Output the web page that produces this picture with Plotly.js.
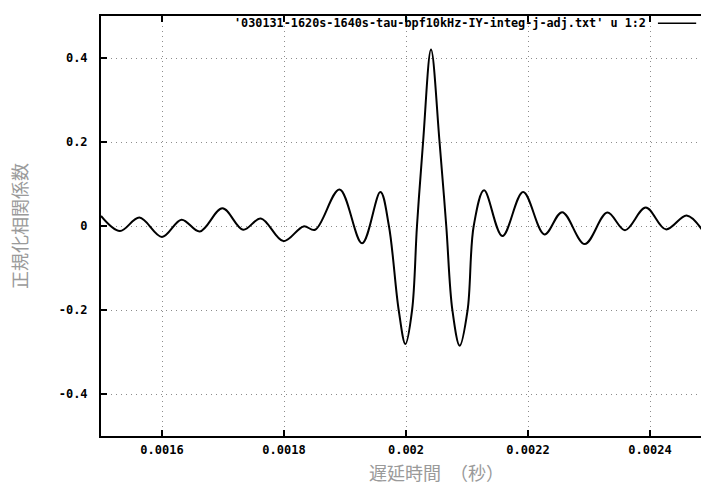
<!DOCTYPE html>
<html>
<head>
<meta charset="utf-8">
<script src="https://cdn.plot.ly/plotly-3.0.1.min.js"></script>
<style>
html,body{margin:0;padding:0;overflow:hidden;background:#fff;width:701px;height:500px;}
#chart{width:772px;height:500px;}
</style>
</head>
<body>
<div id="chart"></div>
<script>
// Delay time (s)
const delayTime = [
  0.001500, 0.001531, 0.001563, 0.001600, 0.001632, 0.001662, 0.001699, 0.001733,
  0.001762, 0.001799, 0.001832, 0.001851, 0.001891, 0.001928, 0.001958, 0.001972,
  0.001988, 0.001999, 0.002010, 0.002018, 0.002028, 0.002041, 0.002055, 0.002066,
  0.002076, 0.002088, 0.002101, 0.002111, 0.002128, 0.002158, 0.002192, 0.002227,
  0.002256, 0.002293, 0.002330, 0.002359, 0.002393, 0.002426, 0.002460, 0.002485
];
// Normalized correlation coefficient
const corrCoef = [
  0.024, -0.012, 0.020, -0.026, 0.015, -0.013, 0.042, -0.009,
  0.018, -0.036, -0.001, -0.009, 0.087, -0.041, 0.081, 0.000,
  -0.200, -0.281, -0.200, 0.000, 0.200, 0.420, 0.200, 0.000,
  -0.200, -0.285, -0.200, 0.000, 0.085, -0.024, 0.081, -0.020,
  0.033, -0.043, 0.032, -0.010, 0.044, -0.008, 0.025, -0.008
];
const xTickVals = [0.0016, 0.0018, 0.002, 0.0022, 0.0024, 0.0026];
const xTickText = ['0.0016', '0.0018', '0.002', '0.0022', '0.0024', '0.0026'];
const yTickVals = [-0.4, -0.2, 0, 0.2, 0.4];
const yTickText = ['-0.4', '-0.2', '0', '0.2', '0.4'];
const seriesName = "'030131-1620s-1640s-tau-bpf10kHz-IY-integ-j-adj.txt' u 1:2";
const xTitle = '遅延時間　（秒）';
const yTitle = '正規化相関係数';

const tickFont = {family: 'DejaVu Sans Mono', size: 12, color: '#000', weight: 'bold'};
const keyFont = {family: 'DejaVu Sans Mono', size: 11.8, color: '#000', weight: 'bold'};

const trace = {
  x: delayTime,
  y: corrCoef,
  type: 'scatter',
  mode: 'lines',
  name: seriesName,
  line: {color: '#000', width: 2, shape: 'spline', smoothing: 1},
  hoverinfo: 'skip'
};

const gridStyle = {
  showgrid: true,
  gridcolor: '#8c8c8c',
  griddash: '1px,4px',
  gridwidth: 1
};

const layout = {
  width: 772,
  height: 500,
  margin: {l: 101, r: 0, t: 16, b: 64},
  paper_bgcolor: '#fff',
  plot_bgcolor: '#fff',
  showlegend: false,
  xaxis: Object.assign({
    range: [0.0015, 0.0026],
    tickvals: xTickVals,
    ticktext: xTickText,
    ticks: 'inside',
    ticklen: 6,
    tickwidth: 1.5,
    tickcolor: '#000',
    showline: true,
    linecolor: '#000',
    linewidth: 2,
    mirror: 'ticks',
    zeroline: false,
    tickfont: tickFont,
    ticklabelstandoff: 2
  }, gridStyle),
  yaxis: Object.assign({
    range: [-0.5, 0.5],
    tickvals: yTickVals,
    ticktext: yTickText,
    ticks: 'inside',
    ticklen: 6,
    tickwidth: 1.5,
    tickcolor: '#000',
    showline: true,
    linecolor: '#000',
    linewidth: 2,
    mirror: 'ticks',
    zeroline: false,
    tickfont: tickFont,
    ticklabelstandoff: 9,
    title: {
      text: yTitle,
      font: {family: 'Noto Sans CJK JP', size: 18, color: '#9a9a9a'},
      standoff: 26
    }
  }, gridStyle),
  annotations: [
    {
      xref: 'paper', yref: 'paper',
      x: 0.5, y: -0.0857,
      xanchor: 'center', yanchor: 'middle',
      text: xTitle,
      showarrow: false,
      font: {family: 'Noto Sans CJK JP', size: 18, color: '#9a9a9a'}
    },
    {
      xref: 'paper', yref: 'paper',
      x: 0.815, y: 0.983,
      xanchor: 'right', yanchor: 'middle',
      text: seriesName,
      showarrow: false,
      font: keyFont
    }
  ],
  shapes: [
    {
      type: 'line', xref: 'paper', yref: 'paper',
      x0: 0.830, x1: 0.887, y0: 0.983, y1: 0.983,
      line: {color: '#000', width: 1.5}
    }
  ]
};

Plotly.newPlot('chart', [trace], layout, {staticPlot: true, displayModeBar: false});
</script>
</body>
</html>
